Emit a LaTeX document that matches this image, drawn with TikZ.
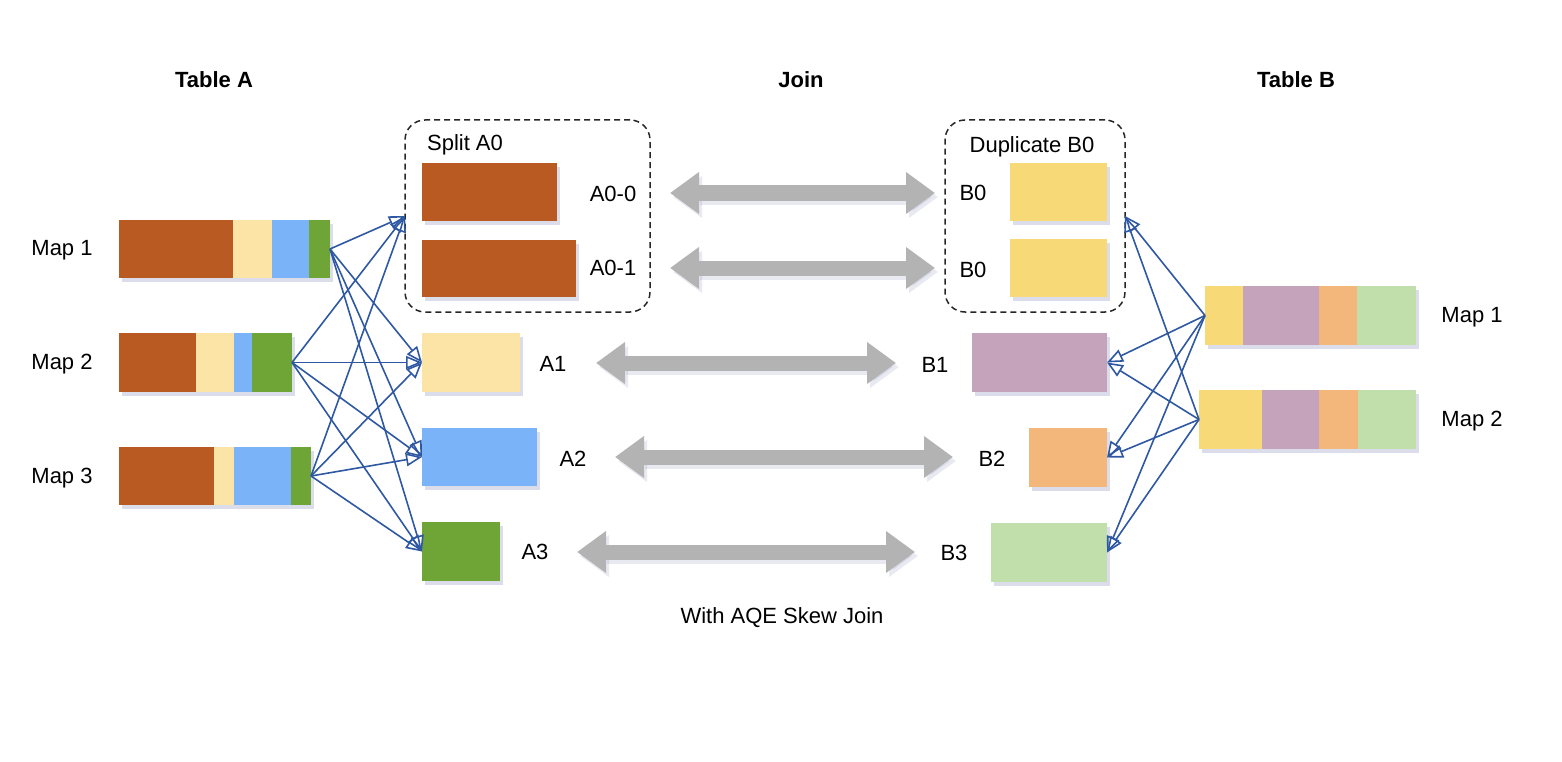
\documentclass[tikz,border=0pt]{standalone}
\usepackage{fontspec}
\setmainfont{Liberation Sans}
\usetikzlibrary{arrows.meta,fit,shadows}
\definecolor{brn}{HTML}{B85A22}
\definecolor{lyel}{HTML}{FBE4A6}
\definecolor{lblu}{HTML}{7AB3F8}
\definecolor{grn}{HTML}{6FA437}
\definecolor{yel}{HTML}{F8D978}
\definecolor{pur}{HTML}{C5A3BA}
\definecolor{org}{HTML}{F3B77B}
\definecolor{lgr}{HTML}{C1DFAA}
\definecolor{lnk}{HTML}{2F58A3}
\definecolor{gry}{HTML}{B3B3B3}
\definecolor{shd}{HTML}{8A90B8}
\newcommand\segm[6]{\node[seg, fill=#6, fit={(#2,#4)(#3,#5)}] (#1) {};}
\begin{document}
\begin{tikzpicture}[x=1pt,y=-1pt,
 lbl/.style={font=\fontsize{22}{26}\selectfont, inner sep=0},
 ttl/.style={font=\fontsize{22}{26}\selectfont\bfseries, inner sep=0},
 seg/.style={inner sep=0, outer sep=0, draw=none},
 box/.style={inner sep=0, outer sep=0, fill=#1, drop shadow={shadow xshift=3pt, shadow yshift=-4pt, fill=shd, opacity=0.3}},
 grp/.style={draw=black!85, dash pattern=on 6pt off 4pt, line width=1.5pt, rounded corners=20pt, inner sep=0, outer sep=0},
 link/.style={draw=lnk, line width=1.6pt, -{Triangle[open, length=16pt, width=13pt, line width=1.6pt]}},
 joinarrow/.style={draw=gry, line width=15pt, {Triangle[length=29pt,width=40pt]}-{Triangle[length=29pt,width=40pt]}},
 joinshadow/.style={draw=shd, opacity=0.2, line width=15pt, {Triangle[length=29pt,width=40pt]}-{Triangle[length=29pt,width=40pt]}},
]
\useasboundingbox (0,0) rectangle (1562,762);

% titles
\node[ttl] (ta) at (214,80) {Table A};
\node[ttl] (tj) at (801,80) {Join};
\node[ttl] (tb) at (1296,80) {Table B};
\node[lbl] (cap) at (782,618) {With AQE Skew Join};

% left maps
\node[box=white, fit={(119,220)(330,278)}] (lm1) {};
\segm{lm1a}{119}{233}{220}{278}{brn}
\segm{lm1b}{233}{272}{220}{278}{lyel}
\segm{lm1c}{272}{309}{220}{278}{lblu}
\segm{lm1d}{309}{330}{220}{278}{grn}
\node[box=white, fit={(119,333)(292,392)}] (lm2) {};
\segm{lm2a}{119}{196}{333}{392}{brn}
\segm{lm2b}{196}{234}{333}{392}{lyel}
\segm{lm2c}{234}{252}{333}{392}{lblu}
\segm{lm2d}{252}{292}{333}{392}{grn}
\node[box=white, fit={(119,447)(311,505)}] (lm3) {};
\segm{lm3a}{119}{214}{447}{505}{brn}
\segm{lm3b}{214}{234}{447}{505}{lyel}
\segm{lm3c}{234}{291}{447}{505}{lblu}
\segm{lm3d}{291}{311}{447}{505}{grn}
\node[lbl] (lm1t) at (62,250) {Map 1};
\node[lbl] (lm2t) at (62,364) {Map 2};
\node[lbl] (lm3t) at (62,478) {Map 3};

% right maps
\node[box=white, fit={(1205,286)(1416,345)}] (rm1) {};
\segm{rm1a}{1205}{1243}{286}{345}{yel}
\segm{rm1b}{1243}{1319}{286}{345}{pur}
\segm{rm1c}{1319}{1357}{286}{345}{org}
\segm{rm1d}{1357}{1416}{286}{345}{lgr}
\node[box=white, fit={(1199,390)(1416,449)}] (rm2) {};
\segm{rm2a}{1199}{1262}{390}{449}{yel}
\segm{rm2b}{1262}{1319}{390}{449}{pur}
\segm{rm2c}{1319}{1358}{390}{449}{org}
\segm{rm2d}{1358}{1416}{390}{449}{lgr}
\node[lbl] (rm1t) at (1472,317) {Map 1};
\node[lbl] (rm2t) at (1472,421) {Map 2};

% A partitions
\node[box=brn, fit={(422,163)(557,221)}] (a00) {};
\node[box=brn, fit={(422,240)(576,297)}] (a01) {};
\node[box=lyel, fit={(422,333)(520,392)}] (a1) {};
\node[box=lblu, fit={(422,428)(537,486)}] (a2) {};
\node[box=grn, fit={(422,522)(500,581)}] (a3) {};
\node[grp, fit={(405,120)(650,312)}] (split) {};
\node[lbl] (splitt) at (465,145) {Split A0};
\node[lbl] (a00t) at (613,194) {A0-0};
\node[lbl] (a01t) at (613,268) {A0-1};
\node[lbl] (a1t) at (553,364) {A1};
\node[lbl] (a2t) at (573,459) {A2};
\node[lbl] (a3t) at (535,552) {A3};

% B partitions
\node[box=yel, fit={(1010,163)(1107,221)}] (b00) {};
\node[box=yel, fit={(1010,239)(1107,297)}] (b01) {};
\node[box=pur, fit={(972,333)(1107,392)}] (b1) {};
\node[box=org, fit={(1029,428)(1107,487)}] (b2) {};
\node[box=lgr, fit={(991,523)(1107,582)}] (b3) {};
\node[grp, fit={(945,120)(1125,312)}] (dup) {};
\node[lbl] (dupt) at (1032,147) {Duplicate B0};
\node[lbl] (b00t) at (973,193) {B0};
\node[lbl] (b01t) at (973,270) {B0};
\node[lbl] (b1t) at (935,365) {B1};
\node[lbl] (b2t) at (992,459) {B2};
\node[lbl] (b3t) at (954,553) {B3};

% join arrows
\coordinate (j0l) at (670,193); \coordinate (j0r) at (935,193);
\coordinate (j1l) at (670,268); \coordinate (j1r) at (935,268);
\coordinate (j2l) at (596,363); \coordinate (j2r) at (896,363);
\coordinate (j3l) at (615,457); \coordinate (j3r) at (953,457);
\coordinate (j4l) at (577,552); \coordinate (j4r) at (915,552);
\foreach \i in {0,...,4}{
  \draw[joinshadow] ([shift={(3,4)}]j\i l) -- ([shift={(3,4)}]j\i r);
  \draw[joinarrow] (j\i l) -- (j\i r);
}

% shuffle links, left
\foreach \s in {lm1,lm2,lm3}{
  \draw[link] (\s.east) -- (split.west);
  \draw[link] (\s.east) -- (a1.west);
  \draw[link] (\s.east) -- (a2.west);
  \draw[link] (\s.east) -- (a3.west);
}
% shuffle links, right
\foreach \s in {rm1,rm2}{
  \draw[link] (\s.west) -- (dup.east);
  \draw[link] (\s.west) -- (b1.east);
  \draw[link] (\s.west) -- (b2.east);
  \draw[link] (\s.west) -- (b3.east);
}
\end{tikzpicture}
\end{document}
